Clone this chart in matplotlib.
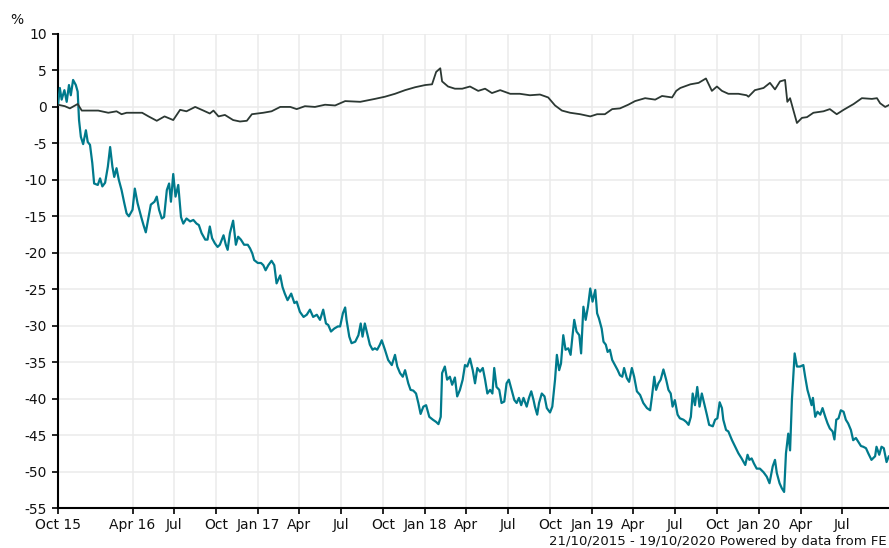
import matplotlib
matplotlib.use("Agg")
import matplotlib.pyplot as plt
import matplotlib.dates as mdates
import numpy as np

START = np.datetime64("2015-10-21")
END = np.datetime64("2020-10-19")

# teal series: days since 21/10/2015, % change
teal_days = [
    0, 4, 8, 14, 19, 24, 28, 33, 39, 43, 46, 50, 55, 61, 65, 70, 75, 79, 87, 92,
    97, 103, 109, 114, 119, 123, 128, 133, 139, 145, 150, 155, 163, 168, 174, 182, 187, 192, 198, 203,
    211, 216, 221, 227, 232, 238, 243, 247, 252, 257, 263, 269, 274, 281, 289, 296, 303, 308, 314, 322,
    327, 332, 337, 343, 349, 354, 362, 367, 371, 376, 383, 389, 394, 400, 407, 415, 420, 425, 429, 437,
    444, 449, 454, 460, 467, 473, 478, 486, 491, 496, 502, 510, 517, 522, 529, 537, 544, 551, 558, 566,
    573, 580, 586, 591, 597, 604, 612, 617, 623, 628, 631, 637, 642, 650, 657, 662, 666, 671, 677, 682,
    688, 693, 698, 704, 708, 715, 722, 730, 737, 742, 748, 754, 759, 766, 771, 777, 783, 788, 793, 799,
    805, 812, 820, 827, 832, 837, 840, 846, 851, 857, 862, 868, 873, 879, 885, 890, 895, 901, 907, 912,
    917, 923, 929, 934, 939, 945, 950, 954, 959, 965, 970, 976, 981, 986, 992, 998, 1003, 1008, 1013, 1018,
    1025, 1030, 1035, 1040, 1043, 1048, 1052, 1058, 1064, 1069, 1076, 1081, 1087, 1091, 1096, 1100, 1105, 1110, 1116, 1121,
    1125, 1129, 1134, 1140, 1144, 1149, 1154, 1159, 1164, 1169, 1175, 1179, 1183, 1189, 1193, 1198, 1202, 1207, 1212, 1218,
    1224, 1229, 1234, 1238, 1244, 1249, 1255, 1260, 1266, 1273, 1280, 1288, 1295, 1299, 1304, 1308, 1313, 1318, 1324, 1330,
    1335, 1340, 1344, 1349, 1355, 1360, 1368, 1374, 1379, 1384, 1388, 1393, 1398, 1403, 1408, 1413, 1419, 1424, 1432, 1437,
    1442, 1447, 1452, 1455, 1461, 1466, 1474, 1481, 1488, 1495, 1503, 1508, 1512, 1517, 1522, 1528, 1535, 1543, 1550, 1556,
    1563, 1568, 1572, 1578, 1583, 1588, 1592, 1597, 1601, 1605, 1608, 1611, 1616, 1623, 1630, 1634, 1639, 1643, 1648, 1651,
    1656, 1661, 1667, 1672, 1678, 1683, 1688, 1694, 1698, 1702, 1707, 1712, 1718, 1723, 1728, 1734, 1739, 1745, 1750, 1756,
    1761, 1767, 1772, 1779, 1787, 1790, 1796, 1801, 1806, 1812, 1817, 1825,
]
teal_vals = [
    0.3, 2.6, 1.0, 2.3, 0.7, 3.0, 1.6, 3.7, 3.0, 2.1, -1.8, -4.1, -5.1, -3.2, -4.8, -5.2, -7.7, -10.5, -10.7, -9.8,
    -10.9, -10.4, -8.2, -5.5, -8.2, -9.6, -8.4, -10.0, -11.4, -13.2, -14.6, -15.0, -14.1, -11.2, -13.2, -15.1, -16.2, -17.2, -15.1, -13.4,
    -13.0, -12.3, -14.1, -15.3, -15.1, -11.4, -10.5, -13.0, -9.2, -12.3, -10.7, -15.1, -16.0, -15.3, -15.7, -15.5, -16.0, -16.2, -17.3, -18.2,
    -18.2, -16.4, -18.0, -18.7, -19.2, -18.9, -17.6, -18.9, -19.6, -17.3, -15.6, -18.9, -17.8, -18.2, -18.9, -18.9, -19.4, -20.1, -21.0, -21.4,
    -21.4, -21.7, -22.4, -21.7, -21.1, -21.7, -24.2, -23.1, -24.7, -25.6, -26.5, -25.6, -26.9, -26.7, -28.1, -28.8, -28.5, -27.8, -28.8, -28.5,
    -29.2, -27.8, -29.7, -29.9, -30.8, -30.4, -30.1, -30.1, -28.3, -27.5, -29.2, -31.5, -32.4, -32.2, -31.3, -29.7, -31.5, -29.7, -31.3, -32.6,
    -33.3, -33.1, -33.3, -32.6, -32.0, -33.3, -34.7, -35.4, -34.0, -35.6, -36.5, -37.0, -36.1, -37.9, -38.8, -38.9, -39.3, -40.6, -42.1, -41.1,
    -40.9, -42.5, -42.9, -43.2, -43.5, -42.5, -36.5, -35.6, -37.4, -37.0, -38.1, -37.1, -39.7, -38.8, -37.4, -35.4, -35.6, -34.5, -36.1, -37.9,
    -35.8, -36.3, -35.8, -37.4, -39.3, -38.8, -39.3, -35.8, -38.4, -38.8, -40.6, -40.4, -37.9, -37.4, -38.8, -40.2, -40.6, -39.9, -40.9, -39.9,
    -41.1, -39.9, -39.0, -40.2, -41.1, -42.2, -40.6, -39.3, -39.7, -41.3, -41.9, -41.1, -37.4, -34.0, -36.1, -35.2, -31.3, -33.3, -33.1, -34.0,
    -31.5, -29.2, -30.8, -31.3, -33.8, -27.4, -29.2, -27.4, -24.9, -26.7, -25.1, -28.3, -29.0, -30.4, -32.2, -32.6, -33.6, -33.3, -34.7, -35.4,
    -36.1, -36.8, -37.0, -35.8, -37.2, -37.7, -35.8, -37.0, -39.0, -39.5, -40.6, -41.3, -41.6, -39.7, -37.0, -38.8, -37.9, -37.4, -36.0, -37.4,
    -38.8, -39.3, -41.1, -40.2, -42.2, -42.7, -42.9, -43.2, -43.6, -42.5, -39.3, -40.9, -38.4, -41.1, -39.3, -40.6, -42.2, -43.6, -43.8, -42.9,
    -42.7, -40.5, -41.3, -42.9, -44.3, -44.5, -45.7, -46.6, -47.5, -48.2, -49.1, -47.7, -48.4, -48.2, -48.9, -49.6, -49.6, -50.1, -50.7, -51.6,
    -49.3, -48.4, -50.2, -51.6, -52.3, -52.8, -47.5, -44.8, -47.1, -40.2, -37.0, -33.8, -35.6, -35.6, -35.4, -37.0, -38.8, -39.7, -40.9, -39.9,
    -42.5, -41.8, -42.2, -41.3, -42.5, -43.4, -44.1, -44.5, -45.6, -42.9, -42.7, -41.6, -41.8, -42.9, -43.4, -44.3, -45.7, -45.4, -45.9, -46.5,
    -46.6, -46.8, -47.5, -48.4, -47.9, -46.6, -47.7, -46.6, -46.8, -48.7, -47.9, -48.3,
]

# dark series: days since 21/10/2015, % change
dark_days = [
    0, 15, 26, 43, 52, 66, 88, 110, 128, 139, 150, 168, 184, 198, 216, 233, 252, 267, 281, 300,
    318, 332, 340, 351, 365, 383, 398, 413, 424, 449, 467, 486, 508, 522, 540, 562, 584, 606, 628, 661,
    693, 715, 737, 759, 781, 803, 818, 827, 836, 840, 853, 868, 884, 901, 919, 934, 949, 967, 989, 1010,
    1032, 1054, 1072, 1087, 1102, 1120, 1142, 1164, 1179, 1196, 1212, 1229, 1247, 1262, 1284, 1306, 1321, 1343, 1352, 1361,
    1383, 1401, 1417, 1430, 1441, 1452, 1466, 1488, 1506, 1510, 1524, 1543, 1557, 1568, 1579, 1590, 1595, 1601, 1608, 1616,
    1627, 1638, 1652, 1674, 1688, 1703, 1718, 1740, 1758, 1780, 1791, 1798, 1809, 1825,
]
dark_vals = [
    0.3, 0.1, -0.2, 0.4, -0.5, -0.5, -0.5, -0.8, -0.6, -1.0, -0.8, -0.8, -0.8, -1.3, -1.9, -1.3, -1.8, -0.4, -0.6, 0.0,
    -0.5, -0.9, -0.5, -1.3, -1.1, -1.8, -2.0, -1.9, -1.0, -0.8, -0.6, 0.0, 0.0, -0.3, 0.1, 0.0, 0.3, 0.2, 0.8, 0.7,
    1.1, 1.4, 1.8, 2.3, 2.7, 3.0, 3.1, 4.8, 5.3, 3.5, 2.8, 2.5, 2.5, 2.8, 2.2, 2.5, 1.9, 2.3, 1.8, 1.8,
    1.6, 1.7, 1.3, 0.2, -0.5, -0.8, -1.0, -1.3, -1.0, -1.0, -0.3, -0.2, 0.3, 0.8, 1.2, 1.0, 1.5, 1.3, 2.2, 2.6,
    3.1, 3.3, 3.9, 2.2, 2.8, 2.2, 1.8, 1.8, 1.6, 1.4, 2.3, 2.6, 3.3, 2.4, 3.5, 3.7, 0.7, 1.2, -0.4, -2.2,
    -1.5, -1.4, -0.8, -0.6, -0.3, -1.0, -0.4, 0.4, 1.2, 1.1, 1.2, 0.5, 0.0, 0.5,
]

tick_dates = [
    "2015-10-21", "2016-04-01", "2016-07-01", "2016-10-01", "2017-01-01", "2017-04-01",
    "2017-07-01", "2017-10-01", "2018-01-01", "2018-04-01", "2018-07-01", "2018-10-01",
    "2019-01-01", "2019-04-01", "2019-07-01", "2019-10-01", "2020-01-01", "2020-04-01",
    "2020-07-01",
]
tick_labels = [
    "Oct 15", "Apr 16", "Jul", "Oct", "Jan 17", "Apr", "Jul", "Oct", "Jan 18", "Apr",
    "Jul", "Oct", "Jan 19", "Apr", "Jul", "Oct", "Jan 20", "Apr", "Jul",
]
y_ticks = list(range(-55, 15, 5))

TEAL = "#007a8c"
DARK = "#2c3833"
GRID = "#ebebeb"

plt.rcParams["font.family"] = ["DejaVu Sans"]

W, H = 889, 548
fig = plt.figure(figsize=(W / 100, H / 100), dpi=100)
ax_left, ax_right, ax_top, ax_bottom = 58, 892.5, 34, 508
ax = fig.add_axes((ax_left / W, (H - ax_bottom) / H,
                   (ax_right - ax_left) / W, (ax_bottom - ax_top) / H))

teal_x = START + np.array(teal_days, dtype="timedelta64[D]")
dark_x = START + np.array(dark_days, dtype="timedelta64[D]")

ax.plot(teal_x, teal_vals, color=TEAL, linewidth=1.6, solid_joinstyle="round", zorder=3)
ax.plot(dark_x, dark_vals, color=DARK, linewidth=1.3, solid_joinstyle="round", zorder=4)

ax.set_xlim(START, END)
ax.set_ylim(-55, 10)

xt = [np.datetime64(d) for d in tick_dates]
ax.set_xticks(mdates.date2num(xt))
ax.set_xticklabels(tick_labels)
ax.set_yticks(y_ticks)
ax.set_yticklabels([str(v) for v in y_ticks])

ax.grid(True, color=GRID, linewidth=1.1, zorder=0)
ax.set_axisbelow(True)
for side in ("top", "right"):
    ax.spines[side].set_visible(False)
for side in ("left", "bottom"):
    ax.spines[side].set_color("black")
    ax.spines[side].set_linewidth(1.5)
ax.tick_params(axis="both", direction="out", length=4, width=1.2, color="black",
               labelsize=10, labelcolor="#111111")
ax.tick_params(axis="x", pad=3)
ax.tick_params(axis="y", pad=4)

fig.text(17 / W, 1 - 20 / H, "%", ha="center", va="center", fontsize=10, color="#111111")
fig.text(887 / W, 1 - 541 / H, "21/10/2015 - 19/10/2020 Powered by data from FE",
         ha="right", va="center", fontsize=9.5, color="#111111")

fig.savefig("out.png", dpi=100)
